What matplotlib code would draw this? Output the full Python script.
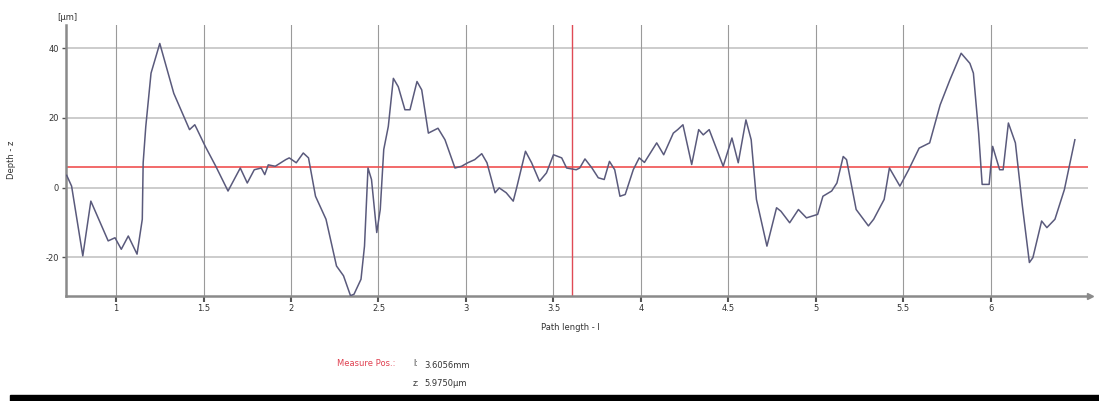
import numpy as np
import matplotlib
matplotlib.use("Agg")
import matplotlib.pyplot as plt
from matplotlib.patches import Rectangle

# Profile (path length in mm, depth in µm)
path_l = [0.718, 0.746, 0.810, 0.856, 0.955, 0.994, 1.03, 1.07, 1.12, 1.15,
          1.155, 1.17, 1.20, 1.25, 1.33, 1.42, 1.45, 1.46, 1.51, 1.57,
          1.64, 1.71, 1.75, 1.79, 1.83, 1.85, 1.87, 1.91, 1.97, 1.99,
          2.03, 2.07, 2.10, 2.14, 2.20, 2.26, 2.30, 2.34, 2.36, 2.40,
          2.42, 2.44, 2.46, 2.49, 2.51, 2.53, 2.556, 2.585, 2.613, 2.651,
          2.68, 2.72, 2.747, 2.785, 2.84, 2.88, 2.937, 2.975, 3.01, 3.05,
          3.09, 3.12, 3.166, 3.19, 3.23, 3.27, 3.29, 3.34, 3.375, 3.42,
          3.46, 3.50, 3.547, 3.575, 3.63, 3.65, 3.68, 3.72, 3.756, 3.79,
          3.82, 3.85, 3.88, 3.91, 3.956, 3.99, 4.02, 4.09, 4.13, 4.185,
          4.21, 4.24, 4.29, 4.33, 4.356, 4.39, 4.47, 4.52, 4.556, 4.60,
          4.63, 4.66, 4.72, 4.775, 4.80, 4.85, 4.90, 4.946, 5.01, 5.04,
          5.09, 5.12, 5.156, 5.175, 5.23, 5.30, 5.33, 5.37, 5.39, 5.42,
          5.48, 5.53, 5.59, 5.65, 5.71, 5.766, 5.83, 5.88, 5.90, 5.93,
          5.95, 5.99, 6.01, 6.05, 6.07, 6.10, 6.14, 6.18, 6.22, 6.24,
          6.29, 6.32, 6.366, 6.42, 6.48]
depth_z = [3.5, 0.4, -19.6, -3.9, -15.3, -14.4, -17.7, -13.9, -19.1, -9.1,
           7.1, 17.5, 32.8, 41.3, 27.0, 16.6, 18.0, 17.0, 11.8, 6.1,
           -1.0, 5.6, 1.3, 5.1, 5.6, 3.7, 6.5, 6.1, 8.0, 8.5,
           7.1, 9.9, 8.5, -2.5, -9.1, -22.5, -25.3, -31.0, -30.6, -26.3,
           -16.8, 5.6, 2.3, -12.9, -6.3, 10.9, 17.5, 31.3, 28.9, 22.3,
           22.3, 30.4, 28.0, 15.6, 17.0, 13.7, 5.6, 6.1, 7.1, 8.0,
           9.7, 7.1, -1.5, -0.1, -1.5, -3.9, 0.0, 10.4, 7.1, 1.8,
           4.2, 9.4, 8.5, 5.6, 5.1, 5.6, 8.2, 5.6, 2.8, 2.3,
           7.5, 5.1, -2.5, -2.0, 5.1, 8.5, 7.2, 12.8, 9.4, 15.6,
           16.6, 18.0, 6.6, 16.6, 15.1, 16.6, 6.1, 14.2, 7.1, 19.4,
           13.7, -3.4, -16.8, -5.8, -6.8, -10.1, -6.3, -8.7, -7.7, -2.5,
           -1.0, 1.3, 8.9, 8.0, -6.3, -11.0, -9.1, -5.3, -3.4, 5.6,
           0.4, 5.1, 11.3, 12.8, 23.7, 30.9, 38.5, 35.6, 32.8, 15.6,
           0.9, 0.9, 11.8, 5.1, 5.1, 18.5, 12.8, -5.3, -21.5, -20.1,
           -9.6, -11.5, -9.1, -0.6, 13.7]

x_ticks = [1, 1.5, 2, 2.5, 3, 3.5, 4, 4.5, 5, 5.5, 6]
x_tick_labels = ["1", "1.5", "2", "2.5", "3", "3.5", "4", "4.5", "5", "5.5", "6"]
y_ticks = [-20, 0, 20, 40]
y_tick_labels = ["-20", "0", "20", "40"]

measure_l = 3.6056  # mm
measure_z = 5.9750  # µm

W, H = 1099, 401
fig = plt.figure(figsize=(W / 100, H / 100), dpi=100)
fig.patch.set_facecolor("white")

ax_left, ax_right, ax_top, ax_bottom = 66, 1088, 25, 296
ax = fig.add_axes([ax_left / W, 1 - ax_bottom / H,
                   (ax_right - ax_left) / W, (ax_bottom - ax_top) / H])

ax.set_xlim(0.714, 6.555)
ax.set_ylim(-31.1, 46.6)

# grid
for yt in y_ticks:
    ax.axhline(yt, color="#c4c4c4", lw=1.2, zorder=1)
for xt in x_ticks:
    ax.axvline(xt, color="#9a9a9a", lw=0.8, zorder=1)

# measurement cross
ax.axhline(measure_z, color="#f05050", lw=1.2, zorder=2)
ax.axvline(measure_l, color="#e04a55", lw=1.0, zorder=2)

ax.plot(path_l, depth_z, color="#5a5a7c", lw=1.1, zorder=3)

for side in ("top", "right"):
    ax.spines[side].set_visible(False)
for side in ("left", "bottom"):
    ax.spines[side].set_color("#8a8a8a")
    ax.spines[side].set_linewidth(1.8)

# arrow at end of x axis
ax.plot([1.002], [0], marker=">", ms=5, color="#8a8a8a",
        transform=ax.transAxes, clip_on=False)

ax.set_xticks(x_ticks)
ax.set_xticklabels(x_tick_labels)
ax.set_yticks(y_ticks)
ax.set_yticklabels(y_tick_labels)
ax.tick_params(axis="x", length=4, width=1.5, color="#555555", labelsize=6,
               labelcolor="#333333", pad=2)
ax.tick_params(axis="y", length=3, width=1.0, color="#555555", labelsize=6,
               labelcolor="#333333", pad=2)

fig.text(67 / W, 1 - 18 / H, "[µm]", fontsize=6, color="#333333",
         ha="center", va="center")
fig.text(12 / W, 1 - 160 / H, "Depth - z", fontsize=6, color="#333333",
         rotation=90, ha="center", va="center")
fig.text(570 / W, 1 - 328 / H, "Path length - l", fontsize=6, color="#333333",
         ha="center", va="center")

# measured position readout
fig.text(395 / W, 1 - 364 / H, "Measure Pos.:", fontsize=6, color="#e04050",
         ha="right", va="center")
fig.text(413 / W, 1 - 364 / H, "l:", fontsize=5.5, color="#333333", va="center")
fig.text(424 / W, 1 - 365 / H, f"{measure_l:.4f}mm", fontsize=6, color="#333333",
         va="center")
fig.text(413 / W, 1 - 383 / H, "z:", fontsize=5.5, color="#333333", va="center")
fig.text(424 / W, 1 - 384 / H, f"{measure_z:.4f}µm", fontsize=6, color="#333333",
         va="center")

# dark strip along the bottom edge
fig.patches.append(Rectangle((10 / W, 0), 1 - 10 / W, 6 / H,
                             transform=fig.transFigure, color="black", zorder=5))

fig.savefig("out.png", dpi=100)
